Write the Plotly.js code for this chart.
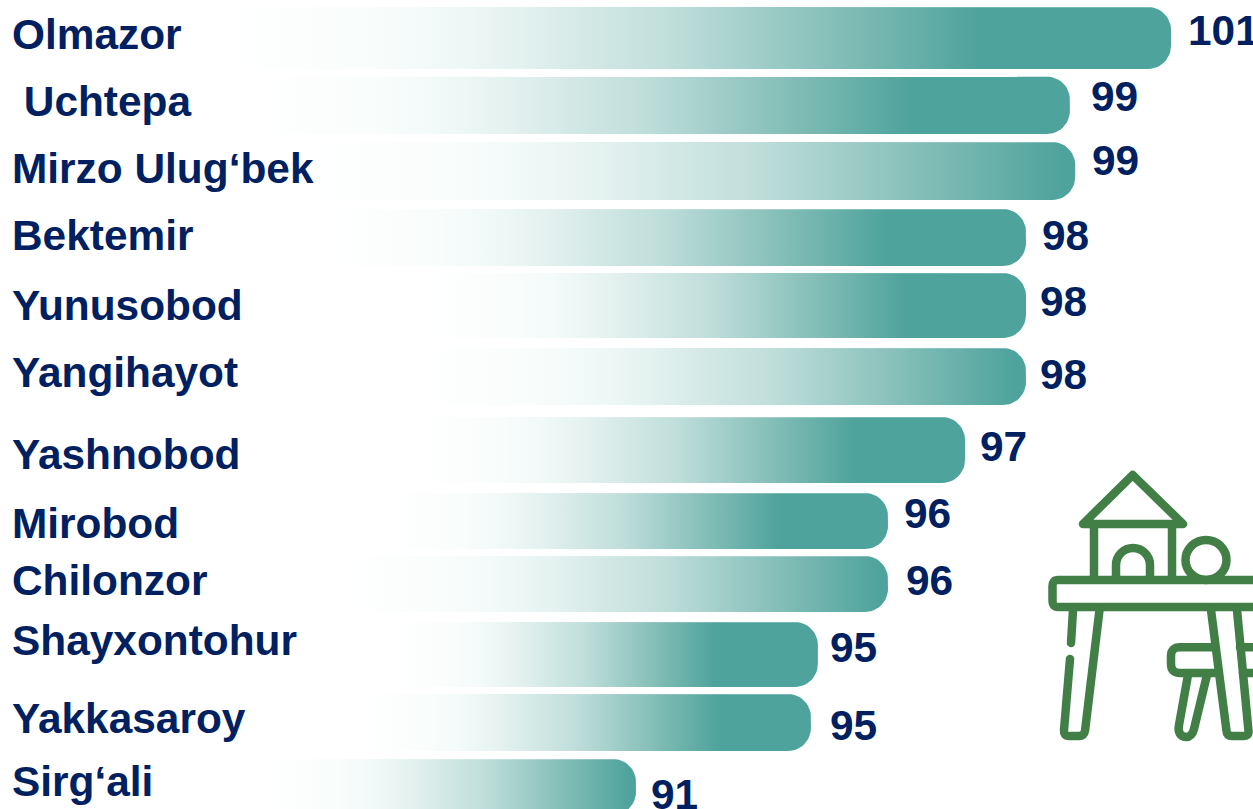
<!DOCTYPE html>
<html><head><meta charset="utf-8">
<script src="https://cdn.plot.ly/plotly-3.0.1.min.js"></script>
<style>html,body{margin:0;padding:0;background:#fff;overflow:hidden}#c{width:1253px;height:809px}
.shapelayer path{stroke-linejoin:round !important;stroke-linecap:round !important}</style>
</head><body><div id="c"></div>
<script>
// Data
const districts = ["Olmazor"," Uchtepa","Mirzo Ulug‘bek","Bektemir","Yunusobod","Yangihayot","Yashnobod","Mirobod","Chilonzor","Shayxontohur","Yakkasaroy","Sirg‘ali"];
const shownValues = [101,99,99,98,98,98,97,96,96,95,95,91];
// Bar lengths, on the value axis
const barValues = [101.0,99.11,99.21,98.29,98.29,98.29,97.15,95.71,95.71,94.40,94.27,91.0];

// Layout (page pixels)
const barTop    = [7,76.6,142,209,273,348,417,493,556,622,694,759];
const barBottom = [69,134,200,266,338,405,483,549,612,687,751,815];
const fadeStart = [215,245,300,320,420,410,410,385,340,390,360,265];
const fadeSolid = [979,911,1062,887,905,1015,855,780,880,715,720,630];
const labelLeft = [12,12,12,12,12,12,12,12,12,12,12,12];
const labelMid  = [38.5,105.5,172.5,239.5,309.5,376.5,458.5,527.5,584.5,644.5,722.5,785.5];
const valueLeft = [1188,1091,1092,1042,1040,1040,980,904,906,830,830,651];
const valueMid  = [34.5,100.5,164.5,239.5,305.5,378.5,450.5,517.5,584.5,651.5,729.5,798.5];

const NAVY = "#002060", TEAL = "#4EA39C", GREEN = "#417F47";
const W = 1253, H = 809, PX_PER_UNIT = 53.5, X0 = 91 - 636 / PX_PER_UNIT;
const pxToV = p => X0 + p / PX_PER_UNIT;
const RADIUS = 23;
const ramp = [[0,"#FFFFFF"],[0.2,"#F9FDFC"],[0.3,"#F1F9F8"],[0.4,"#E3F1EF"],[0.6,"#BFDEDA"],[0.8,"#88C0BA"],[1,TEAL]];

const traces = barValues.map((v, i) => {
  const xs = [], ys = [], t = barTop[i], b = barBottom[i], r = RADIUS / PX_PER_UNIT, s = pxToV(fadeStart[i]);
  xs.push(s); ys.push(t);
  for (let a = 0; a <= 12; a++) { const q = -Math.PI/2 + a/12*Math.PI/2; xs.push(v - r + r*Math.cos(q)); ys.push(t + RADIUS + RADIUS*Math.sin(q)); }
  for (let a = 0; a <= 12; a++) { const q = a/12*Math.PI/2; xs.push(v - r + r*Math.cos(q)); ys.push(b - RADIUS + RADIUS*Math.sin(q)); }
  xs.push(s); ys.push(b); xs.push(s); ys.push(t);
  return {type:"scatter", mode:"lines", x:xs, y:ys, fill:"toself", line:{width:0,color:"rgba(0,0,0,0)"}, hoverinfo:"skip", showlegend:false,
    fillgradient:{type:"horizontal", start:s, stop:pxToV(fadeSolid[i]), colorscale:ramp}};
});

const font = {family:"'Liberation Sans', Arial, sans-serif", size:42.4, color:NAVY};
traces.push({type:"scatter", mode:"text", x:labelLeft.map(pxToV), y:labelMid, text:districts.map(d=>"<b>"+d.replace(/^ /,"&nbsp;")+"</b>"),
  textposition:"middle right", textfont:font, cliponaxis:false, hoverinfo:"skip", showlegend:false});
traces.push({type:"scatter", mode:"text", x:valueLeft.map(pxToV), y:valueMid, text:shownValues.map(v=>"<b>"+v+"</b>"),
  textposition:"middle right", textfont:font, cliponaxis:false, hoverinfo:"skip", showlegend:false});

// Decorative icon: pairs are "px py" on the page
const ip = s => s.replace(/(-?[\d.]+) (-?[\d.]+)/g, (m,a,b) => pxToV(+a) + " " + b);
const iconPaths = [
  "M 1132.7 475 L 1083 524 L 1183 524 Z",
  "M 1094 525 L 1094 579 M 1172 525 L 1172 579",
  "M 1116 579 L 1116 565 C 1116 555.6 1123.6 548 1133 548 C 1142.4 548 1150 555.6 1150 565 L 1150 579",
  "M 1262 580 L 1058 580 Q 1052.5 580 1052.5 586 L 1052.5 601 Q 1052.5 607 1058 607 L 1262 607",
  "M 1073 610 L 1071 643",
  "M 1070 659 L 1064 730 Q 1063.5 736 1069 736 L 1079 736 Q 1084 736 1085 731 L 1099.5 610",
  "M 1211 610 L 1226.5 731 Q 1227 736 1232 736 L 1244 736 Q 1249 736 1248.5 731 L 1237 610",
  "M 1215 647.3 L 1180 647.3 Q 1171 647.3 1171 656 L 1171 664 Q 1171 673 1180 673 L 1218 673",
  "M 1240 647.3 L 1262 647.3 M 1243 673 L 1262 673",
  "M 1188 675 L 1179 725 Q 1177 736 1186 737 Q 1192 737 1194 729 L 1207 675"
];
const shapes = iconPaths.map(p => ({type:"path", xref:"x", yref:"y", path:ip(p), line:{color:GREEN,width:8.5}, layer:"above"}));
shapes.push({type:"circle", xref:"x", yref:"y", x0:pxToV(1185.5), x1:pxToV(1226.5), y0:540, y1:580, line:{color:GREEN,width:8.5}, layer:"above"});

const hidden = {visible:false, showgrid:false, zeroline:false, fixedrange:true};
Plotly.newPlot("c", traces, {
  width:W, height:H, margin:{l:0,r:0,t:0,b:0}, paper_bgcolor:"#fff", plot_bgcolor:"#fff", showlegend:false, shapes,
  xaxis:{...hidden, range:[pxToV(0), pxToV(W)]},
  yaxis:{...hidden, range:[H,0]}
}, {displayModeBar:false, staticPlot:true});
</script></body></html>
